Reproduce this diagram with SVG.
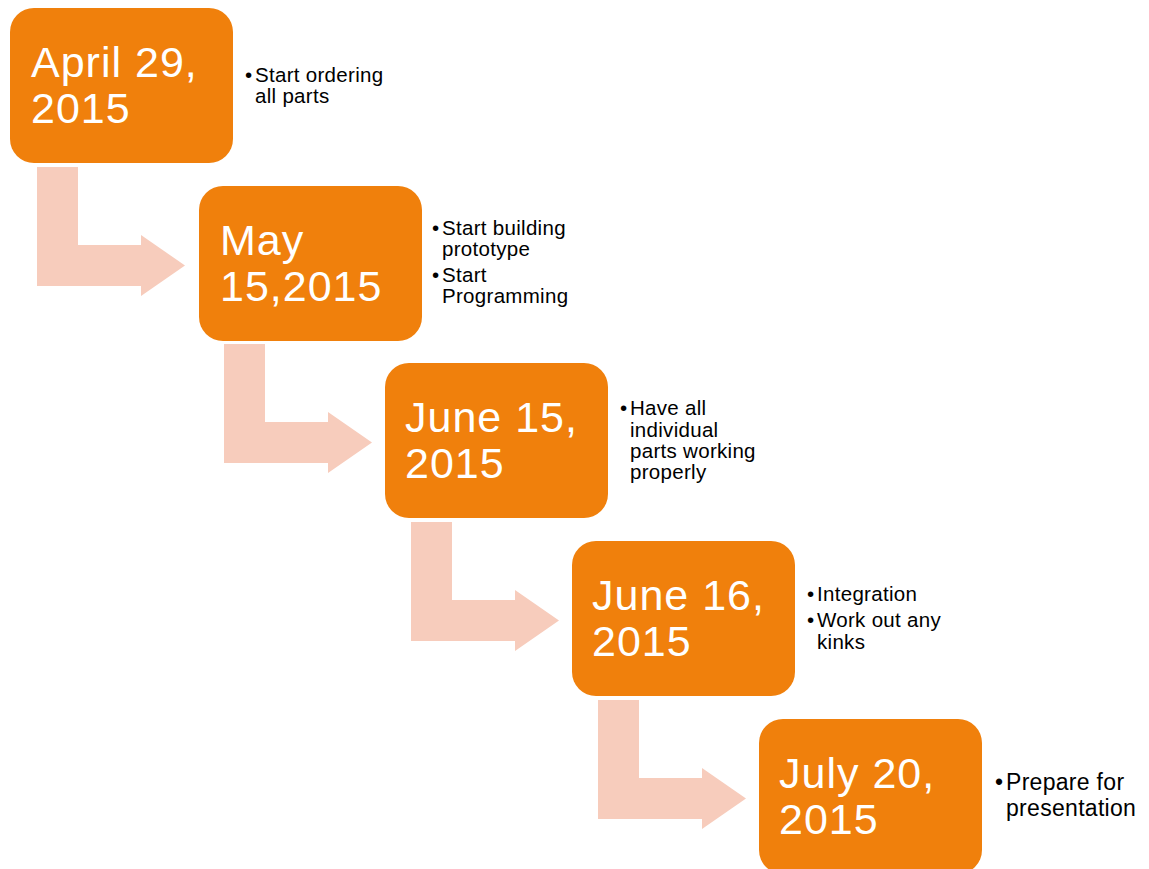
<svg xmlns="http://www.w3.org/2000/svg" width="1149" height="869" viewBox="0 0 1149 869">
<style>
.box{fill:#F0800C;}
.arr{fill:#F7CCBC;}
.date{font-family:"Liberation Sans",Arial,sans-serif;font-size:43px;fill:#FFFFFF;letter-spacing:1px;}
.bul{font-family:"Liberation Sans",Arial,sans-serif;font-size:20.5px;fill:#000000;letter-spacing:0.3px;}
.bul5{font-family:"Liberation Sans",Arial,sans-serif;font-size:23px;fill:#000000;letter-spacing:0.3px;}
</style>
<defs>
<path id="bent" d="M37,167 L78,167 L78,245 L141,245 L141,235 L185,265.5 L141,296 L141,286 L37,286 Z"/>
</defs>
<rect width="1149" height="869" fill="#FFFFFF"/>
<g id="connectors">
<use href="#bent" class="arr"/>
<use href="#bent" class="arr" transform="translate(187,177)"/>
<use href="#bent" class="arr" transform="translate(374,355)"/>
<use href="#bent" class="arr" transform="translate(561,533)"/>
</g>
<g id="node1">
<rect class="box" x="10" y="8" width="223" height="155" rx="24"/>
<text class="date" x="31" y="77">April 29,</text>
<text class="date" x="31" y="123">2015</text>
<text class="bul" x="245" y="82">•</text>
<text class="bul" x="255" y="82">Start ordering</text>
<text class="bul" x="255" y="103">all parts</text>
</g>
<g id="node2">
<rect class="box" x="199" y="186" width="223" height="155" rx="24"/>
<text class="date" x="220" y="255">May</text>
<text class="date" x="220" y="301">15,2015</text>
<text class="bul" x="432" y="235">•</text>
<text class="bul" x="442" y="235">Start building</text>
<text class="bul" x="442" y="256">prototype</text>
<text class="bul" x="432" y="282">•</text>
<text class="bul" x="442" y="282">Start</text>
<text class="bul" x="442" y="303">Programming</text>
</g>
<g id="node3">
<rect class="box" x="385" y="363" width="223" height="155" rx="24"/>
<text class="date" x="405" y="432">June 15,</text>
<text class="date" x="405" y="478">2015</text>
<text class="bul" x="620" y="415">•</text>
<text class="bul" x="630" y="415">Have all</text>
<text class="bul" x="630" y="437">individual</text>
<text class="bul" x="630" y="458">parts working</text>
<text class="bul" x="630" y="479">properly</text>
</g>
<g id="node4">
<rect class="box" x="572" y="541" width="223" height="155" rx="24"/>
<text class="date" x="592" y="610">June 16,</text>
<text class="date" x="592" y="656">2015</text>
<text class="bul" x="807" y="601">•</text>
<text class="bul" x="817" y="601">Integration</text>
<text class="bul" x="807" y="627">•</text>
<text class="bul" x="817" y="627">Work out any</text>
<text class="bul" x="817" y="649">kinks</text>
</g>
<g id="node5">
<rect class="box" x="759" y="719" width="223" height="155" rx="24"/>
<text class="date" x="779" y="788">July 20,</text>
<text class="date" x="779" y="834">2015</text>
<text class="bul5" x="995" y="790">•</text>
<text class="bul5" x="1006" y="790">Prepare for</text>
<text class="bul5" x="1006" y="816">presentation</text>
</g>
</svg>
